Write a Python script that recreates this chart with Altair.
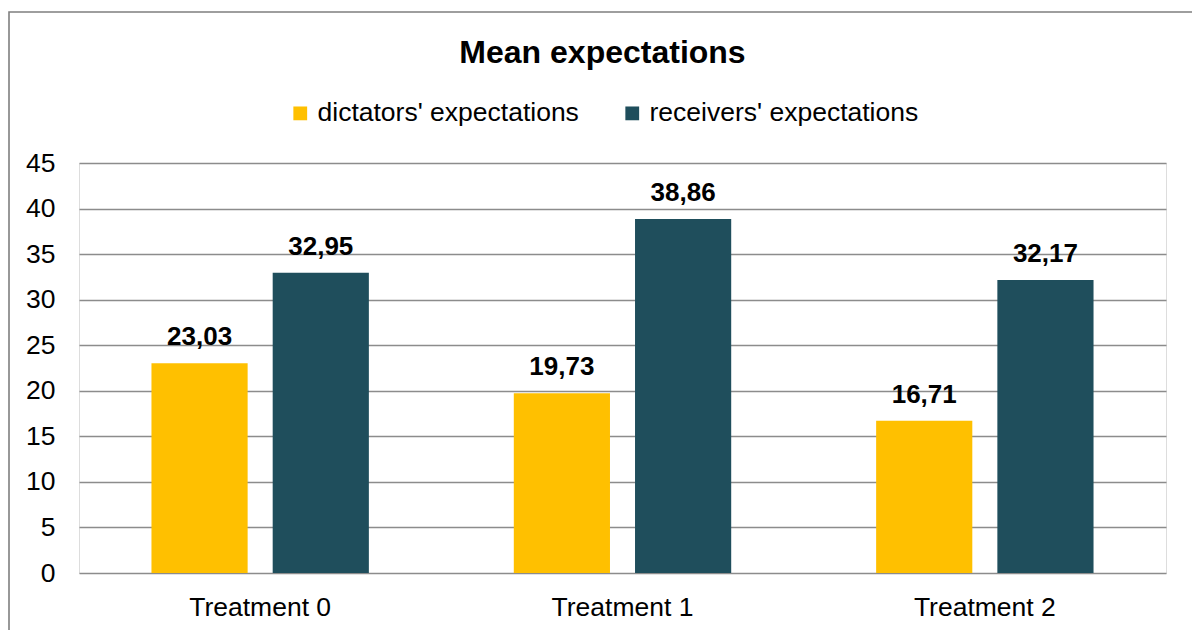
import altair as alt
import pandas as pd

categories = ["Treatment 0", "Treatment 1", "Treatment 2"]
series = ["dictators' expectations", "receivers' expectations"]
dictators = [23.03, 19.73, 16.71]
receivers = [32.95, 38.86, 32.17]
colors = ["#FFC000", "#1F4E5C"]
y_ticks = [0, 5, 10, 15, 20, 25, 30, 35, 40, 45]

rows = []
for c, d, r in zip(categories, dictators, receivers):
    rows.append({"cat": c, "series": series[0], "value": d})
    rows.append({"cat": c, "series": series[1], "value": r})
df = pd.DataFrame(rows)

FONT = "Liberation Sans"

x_enc = alt.X("cat:N", sort=categories,
              scale=alt.Scale(paddingInner=0.4, paddingOuter=0.2),
              axis=alt.Axis(title=None, labelAngle=0, labelFontSize=26.5, labelFont=FONT,
                            labelColor="#000000", labelPadding=21, ticks=False,
                            domain=False, grid=False))
xoff_enc = alt.XOffset("series:N", sort=series,
                       scale=alt.Scale(paddingInner=0.2066, paddingOuter=0))
y_scale = alt.Scale(domain=[0, 45], nice=False)

bars = alt.Chart(df).mark_bar().encode(
    x=x_enc,
    xOffset=xoff_enc,
    y=alt.Y("value:Q", scale=y_scale,
            axis=alt.Axis(title=None, values=y_ticks, labelFontSize=26.5, labelFont=FONT,
                          labelColor="#000000", labelPadding=24, ticks=False, domain=False,
                          gridColor="#8C8C8C", gridWidth=1.6, gridOpacity=1)),
    color=alt.Color("series:N", sort=series,
                    scale=alt.Scale(domain=series, range=colors),
                    legend=alt.Legend(title=None, orient="none", direction="horizontal",
                                      legendX=208, legendY=-63,
                                      symbolType="square", symbolSize=190,
                                      symbolStrokeWidth=0, symbolOpacity=1,
                                      labelFontSize=26.5, labelFont=FONT, labelColor="#000000",
                                      labelLimit=500, labelOffset=4, columnPadding=40)),
)

labels = alt.Chart(df).transform_calculate(
    label="replace(format(datum.value, '.2f'), '.', ',')"
).mark_text(font=FONT, fontSize=26, fontWeight="bold", color="#000000",
            baseline="alphabetic", align="center", dy=-18).encode(
    x=alt.X("cat:N", sort=categories),
    xOffset=alt.XOffset("series:N", sort=series),
    y=alt.Y("value:Q", scale=y_scale),
    text="label:N",
)

frame_df = pd.DataFrame({"k": [1]})
frame = alt.Chart(frame_df).mark_rect(fill=None, stroke="#7F7F7F", strokeWidth=1.6, clip=False).encode(
    x=alt.value(-70), x2=alt.value(1200), y=alt.value(-151), y2=alt.value(700)
)

chart = alt.layer(frame, bars, labels).properties(
    width=1087, height=410,
    title=alt.TitleParams("Mean expectations", font=FONT, fontSize=32, fontWeight="bold",
                          color="#000000", anchor="middle", frame="group", dx=-20, dy=59,
                          offset=0),
    autosize=alt.AutoSizeParams(type="none"),
    padding={"left": 79, "top": 163, "right": 26, "bottom": 57},
).configure_view(stroke=None).configure(background="white")

chart.save("out.html", embed_options={"renderer": "svg", "actions": False})
